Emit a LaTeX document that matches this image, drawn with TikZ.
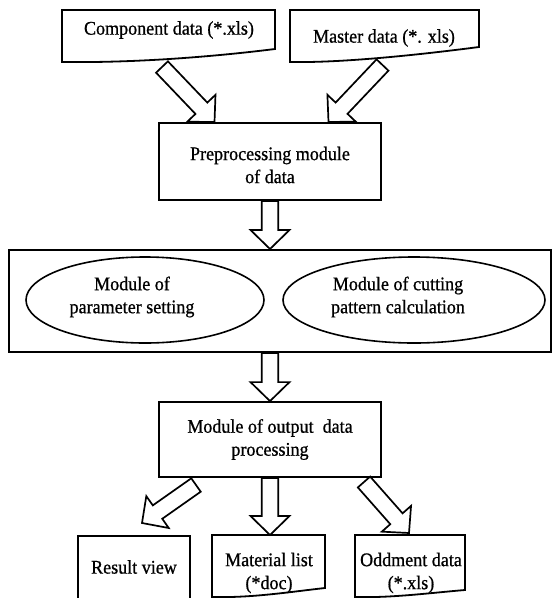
\documentclass[tikz,border=0pt]{standalone}
\usepackage{fontspec}
\setmainfont[FakeStretch=0.935,FakeBold=0.8]{Liberation Serif}
\usetikzlibrary{calc,shapes.geometric}

\newcommand\labelfont{\fontsize{19.3}{23}\selectfont}

\tikzset{
  boxline/.style={draw, line width=1.8pt, line join=miter},
  box/.style={boxline, rectangle, inner sep=0pt, align=center, font=\labelfont},
  arrowbody/.style={draw, line width=1.7pt, line join=miter, fill=white},
  oval/.style={ellipse, draw, line width=1.6pt, inner sep=0pt},
  txt/.style={align=center, inner sep=0pt, font=\labelfont},
}

% hollow block arrow from #1 (tail centre) to #2 (tip)
\newcommand\blockarr[2]{%
  \draw[arrowbody]
    ($(#1)!8.2pt!90:(#2)$)
    -- ($(#2)!19pt!(#1)!8.2pt!-90:(#1)$)
    -- ($(#2)!19pt!(#1)!19.5pt!-90:(#1)$)
    -- (#2)
    -- ($(#2)!19pt!(#1)!19.5pt!90:(#1)$)
    -- ($(#2)!19pt!(#1)!8.2pt!90:(#1)$)
    -- ($(#1)!8.2pt!-90:(#2)$)
    -- cycle;}

\begin{document}
\begin{tikzpicture}[x=1pt,y=-1pt]
\useasboundingbox (0,0) rectangle (560,598);
\begin{scope}
\clip (0,0) rectangle (560,598);

% input documents
\draw[boxline] (62,10) -- (275,10) -- (275,49)
  .. controls (219,56) and (140,63) .. (62,62) -- cycle;
\node[txt] (comp) at (169,30) {Component data (*.xls)};
\draw[boxline] (290,10) -- (479,10) -- (479,47)
  .. controls (425,54) and (345,63) .. (290,62) -- cycle;
\node[txt] (mast) at (384,38) {Master data (*. xls)};

% preprocessing
\node[box, minimum width=222pt, minimum height=77pt] (pre) at (270,161.5) {};
\node[txt] (pretxt) at (270,165) {Preprocessing module\\of data};

% calculation modules
\node[box, line width=2pt, minimum width=542pt, minimum height=102pt] (mods) at (280,301) {};
\node[oval, minimum width=238pt, minimum height=86pt] (param) at (145,300) {};
\node[txt] (paramtxt) at (132,297) {Module of\\parameter setting};
\node[oval, minimum width=262pt, minimum height=86pt] (cutting) at (414,300) {};
\node[txt] (cuttxt) at (398,297) {Module of cutting\\pattern calculation};

% output processing
\node[box, minimum width=222pt, minimum height=75pt] (out) at (270,439.5)
  {Module of output~ data\\processing};

% results
\node[box, minimum width=112pt, minimum height=70pt, anchor=north] (res) at (134,535) {};
\node[txt] (restxt) at (134,567) {Result view};
\draw[boxline] (212,535) -- (325,535) -- (325,588)
  .. controls (289,592) and (252,598) .. (212,597) -- cycle;
\node[txt] (mat) at (269,573) {Material list\\(*doc)};
\draw[boxline] (355,535) -- (465,535) -- (465,590)
  .. controls (429,593) and (392,598) .. (355,597) -- cycle;
\node[txt] (odd) at (411,573) {Oddment data\\(*.xls)};

% arrow ends
\coordinate (a1s) at (162,67);  \coordinate (a1e) at (214.5,122);
\coordinate (a2s) at (382.5,65); \coordinate (a2e) at (328.5,122);
\coordinate (a6s) at (196,485); \coordinate (a6e) at (142,523);
\coordinate (a7s) at (364,482); \coordinate (a7e) at (409,533);
\coordinate (a3e) at (pre.south |- mods.north);
\coordinate (a4s) at (out.north |- mods.south);
\coordinate (a5e) at (out.south |- res.north);

\blockarr{a1s}{a1e}
\blockarr{a2s}{a2e}
\blockarr{pre.south}{a3e}
\blockarr{a4s}{out.north}
\blockarr{out.south}{a5e}
\blockarr{a6s}{a6e}
\blockarr{a7s}{a7e}
\end{scope}
\end{tikzpicture}
\end{document}
